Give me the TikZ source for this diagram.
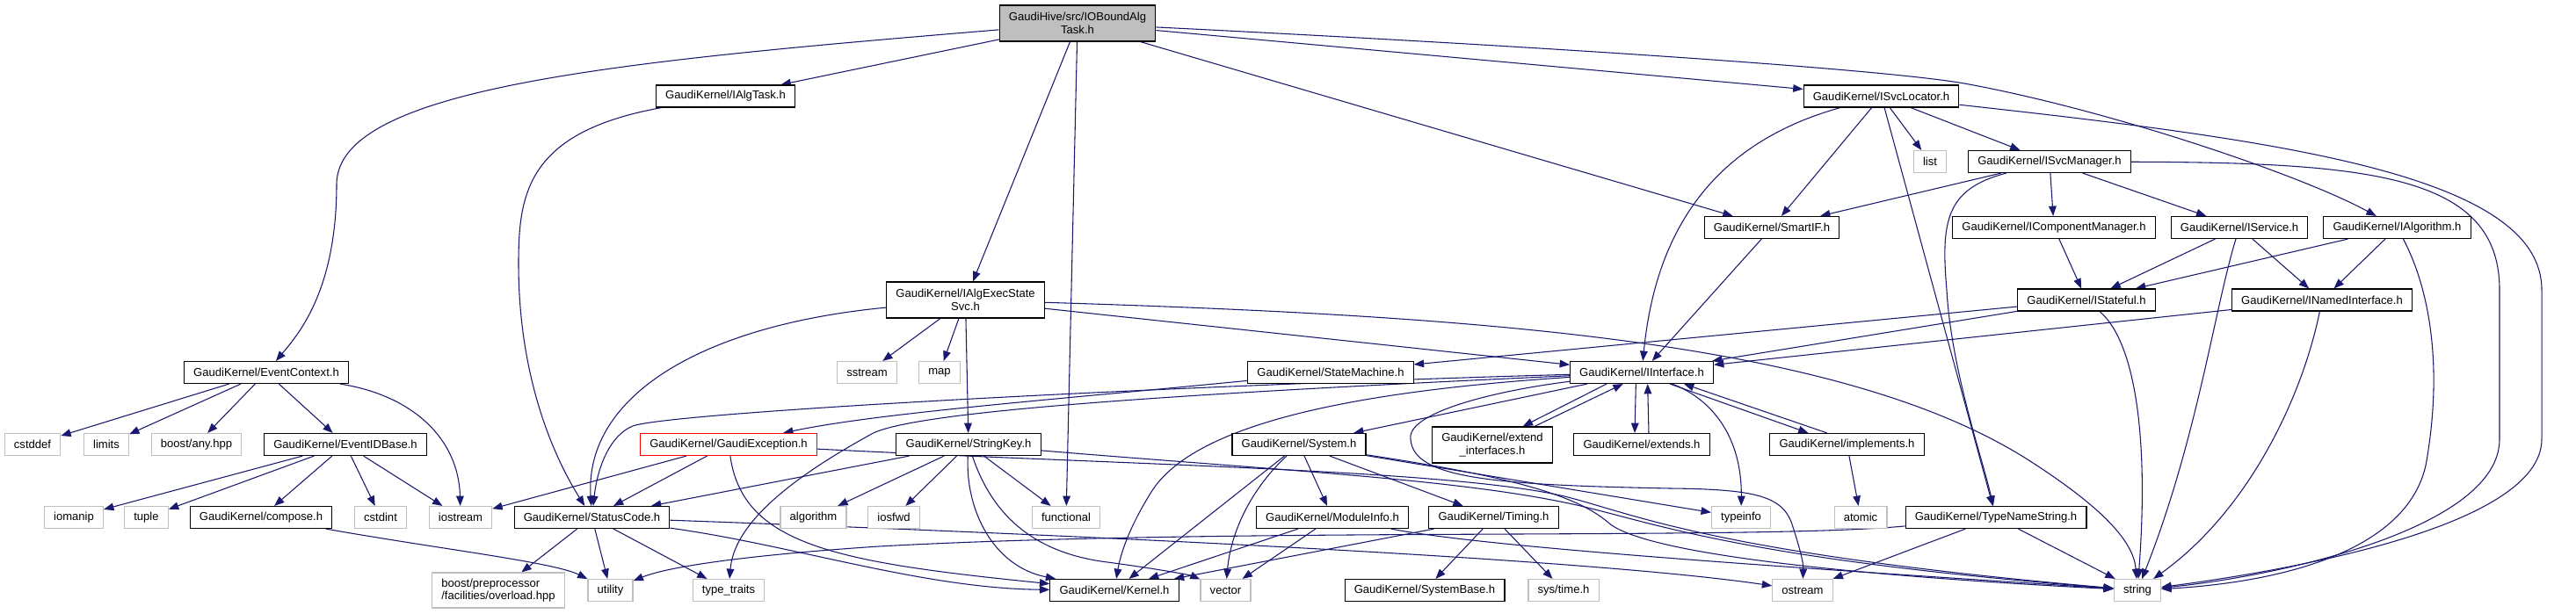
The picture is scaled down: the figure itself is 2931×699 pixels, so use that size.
\documentclass[tikz,border=0pt]{standalone}
\usepackage{fontspec}
\setmainfont{Liberation Sans}
\usetikzlibrary{arrows.meta}
\pgfdeclarelayer{bg}
\pgfsetlayers{bg,main}
\definecolor{grey75}{HTML}{BFBFBF}
\definecolor{edgeblue}{HTML}{191970}
\begin{document}
\begin{tikzpicture}[x=0.75pt,y=-0.75pt,
  every node/.style={font=\fontsize{9.8}{11}\selectfont, inner xsep=8pt, inner ysep=1pt,
    minimum height=18.75pt, fill=white, line width=0.85pt},
  hdr/.style={draw=black},
  sys/.style={draw=grey75},
  trunc/.style={draw=red},
  root/.style={draw=black, fill=grey75, align=center, minimum height=30.75pt},
  two/.style={align=center, minimum height=30.75pt},
  e/.style={draw=edgeblue, line width=0.8pt, -{Triangle[length=8.5pt,width=6.5pt]}},
]
\begin{pgfonlayer}{bg}
\fill[white] (0,0) rectangle (2931,699);
\end{pgfonlayer}
\useasboundingbox (0,0) rectangle (2931,699);

% ---------- nodes ----------
\node[root] (M) at (1226,26.5) {GaudiHive/src/IOBoundAlg\\Task.h};
\node[hdr] (IAlgTask) at (825.5,109.5) {GaudiKernel/IAlgTask.h};
\node[hdr] (ISvcLocator) at (2140.5,109.5) {GaudiKernel/ISvcLocator.h};
\node[sys] (list) at (2196,184) {list};
\node[hdr] (ISvcManager) at (2332,184) {GaudiKernel/ISvcManager.h};
\node[hdr] (SmartIF) at (2016,259) {GaudiKernel/SmartIF.h};
\node[hdr] (ICompMgr) at (2337,259) {GaudiKernel/IComponentManager.h};
\node[hdr] (IService) at (2548,259) {GaudiKernel/IService.h};
\node[hdr] (IAlgorithm) at (2727.5,259) {GaudiKernel/IAlgorithm.h};
\node[hdr,two] (IAlgExec) at (1098.5,341.5) {GaudiKernel/IAlgExecState\\Svc.h};
\node[hdr] (IStateful) at (2374,341.5) {GaudiKernel/IStateful.h};
\node[hdr] (INamed) at (2642,341.5) {GaudiKernel/INamedInterface.h};
\node[hdr] (EvCtx) at (303,424) {GaudiKernel/EventContext.h};
\node[sys] (sstream) at (986.5,424) {sstream};
\node[sys] (map) at (1069,424) {map};
\node[hdr] (StateMachine) at (1514,424) {GaudiKernel/StateMachine.h};
\node[hdr] (IInterface) at (1868,424) {GaudiKernel/IInterface.h};
\node[sys] (cstddef) at (37,506) {cstddef};
\node[sys] (limits) at (121,506) {limits};
\node[sys] (anyhpp) at (223.5,506) {boost/any.hpp};
\node[hdr] (EvIDBase) at (393,506) {GaudiKernel/EventIDBase.h};
\node[trunc] (GExc) at (829,506) {GaudiKernel/GaudiException.h};
\node[hdr] (StringKey) at (1102,506) {GaudiKernel/StringKey.h};
\node[hdr] (System) at (1478,506) {GaudiKernel/System.h};
\node[hdr,two] (extendif) at (1698,506.5) {GaudiKernel/extend\\\_interfaces.h};
\node[hdr] (extends) at (1868,506) {GaudiKernel/extends.h};
\node[hdr] (implements) at (2101.5,506) {GaudiKernel/implements.h};
\node[sys] (iomanip) at (84,589) {iomanip};
\node[sys] (tuple) at (166.5,589) {tuple};
\node[hdr] (compose) at (297,589) {GaudiKernel/compose.h};
\node[sys] (cstdint) at (433,589) {cstdint};
\node[sys] (iostream) at (524,589) {iostream};
\node[hdr] (StatusCode) at (673.5,589) {GaudiKernel/StatusCode.h};
\node[sys] (algorithm) at (925.5,589) {algorithm};
\node[sys] (iosfwd) at (1017,589) {iosfwd};
\node[sys] (functional) at (1213,589) {functional};
\node[hdr] (ModuleInfo) at (1516,589) {GaudiKernel/ModuleInfo.h};
\node[hdr] (Timing) at (1699.5,589) {GaudiKernel/Timing.h};
\node[sys] (typeinfo) at (1981,589) {typeinfo};
\node[sys] (atomic) at (2117,589) {atomic};
\node[hdr] (TypeName) at (2271,589) {GaudiKernel/TypeNameString.h};
\node[sys,align=left,minimum height=30pt] (boostpp) at (567,672) {boost/preprocessor\\/facilities/overload.hpp};
\node[sys] (utility) at (694.5,672) {utility};
\node[sys] (typetraits) at (829,672) {type\_traits};
\node[hdr] (Kernel) at (1268,672) {GaudiKernel/Kernel.h};
\node[sys] (vector) at (1394.5,672) {vector};
\node[hdr] (SystemBase) at (1621,672) {GaudiKernel/SystemBase.h};
\node[sys] (systime) at (1779,672) {sys/time.h};
\node[sys] (ostream) at (2051,672) {ostream};
\node[sys] (string) at (2432,672) {string};

% ---------- edges ----------
\begin{pgfonlayer}{bg}
% root
\draw[e] (M) .. controls (700,70) and (383,100) .. (383,210) .. controls (383,330) and (340,380) .. (EvCtx);
\draw[e] (M) -- (IAlgTask);
\draw[e] (M) -- (IAlgExec);
\draw[e] (M) -- (functional);
\draw[e] (M) -- (SmartIF);
\draw[e] (M) -- (ISvcLocator);
\draw[e] (M) .. controls (1800,55) and (2150,80) .. (2235,95) .. controls (2400,125) and (2620,200) .. (IAlgorithm);
% IAlgTask
\draw[e] (IAlgTask) .. controls (600,150) and (590,220) .. (590,300) .. controls (590,430) and (630,520) .. (StatusCode);
% EventContext
\draw[e] (EvCtx) -- (cstddef);
\draw[e] (EvCtx) -- (limits);
\draw[e] (EvCtx) -- (anyhpp);
\draw[e] (EvCtx) -- (EvIDBase);
\draw[e] (EvCtx) .. controls (470,450) and (522,500) .. (iostream);
% EventIDBase
\draw[e] (EvIDBase) -- (iomanip);
\draw[e] (EvIDBase) -- (tuple);
\draw[e] (EvIDBase) -- (compose);
\draw[e] (EvIDBase) -- (cstdint);
\draw[e] (EvIDBase) -- (iostream);
\draw[e] (compose) .. controls (500,625) and (630,640) .. (utility);
% GaudiException
\draw[e] (GExc) -- (iostream);
\draw[e] (GExc) -- (StatusCode);
\draw[e] (GExc) .. controls (845,620) and (950,640) .. (Kernel);
\draw[e] (GExc) .. controls (1300,530) and (1650,535) .. (1780,565) .. controls (1860,585) and (1950,630) .. (string);
% StatusCode
\draw[e] (StatusCode) -- (boostpp);
\draw[e] (StatusCode) -- (utility);
\draw[e] (StatusCode) -- (typetraits);
\draw[e] (StatusCode) .. controls (900,620) and (1050,670) .. (Kernel);
\draw[e] (StatusCode) .. controls (1200,608) and (1800,635) .. (ostream);
% IAlgExecStateSvc
\draw[e] (IAlgExec) -- (sstream);
\draw[e] (IAlgExec) -- (map);
\draw[e] (IAlgExec) -- (StringKey);
\draw[e] (IAlgExec) .. controls (800,370) and (665,450) .. (StatusCode);
\draw[e] (IAlgExec) -- (IInterface);
\draw[e] (IAlgExec) .. controls (1700,360) and (2100,390) .. (2310,525) .. controls (2400,583) and (2428,620) .. (string);
% StateMachine
\draw[e] (StateMachine) .. controls (1200,455) and (1000,470) .. (GExc);
% IInterface
\draw[e] (IInterface) .. controls (1300,440) and (760,470) .. (720,485) .. controls (695,495) and (680,530) .. (StatusCode);
\draw[e] (IInterface) .. controls (1300,450) and (1030,470) .. (990,495) .. controls (890,550) and (835,600) .. (typetraits);
\draw[e] (IInterface) .. controls (1550,445) and (1360,480) .. (1310,560) .. controls (1285,600) and (1275,630) .. (Kernel);
\draw[e] (IInterface) -- (System);
\draw[e] ([xshift=-30pt]IInterface.south) -- ([xshift=26pt]extendif.north);
\draw[e] ([xshift=36pt]extendif.north) -- ([xshift=-16pt]IInterface.south);
\draw[e] ([xshift=-5pt]IInterface.south) -- ([xshift=-6pt]extends.north);
\draw[e] ([xshift=6pt]extends.north) -- ([xshift=5pt]IInterface.south);
\draw[e] ([xshift=24pt]IInterface.south) -- ([xshift=-33pt]implements.north);
\draw[e] ([xshift=-17pt]implements.north) -- ([xshift=36pt]IInterface.south);
\draw[e] (IInterface) .. controls (1950,455) and (1982,500) .. (typeinfo);
\draw[e] (IInterface) .. controls (1700,445) and (1600,470) .. (1605,500) .. controls (1608,545) and (1700,552) .. (1900,556) .. controls (2000,557) and (2030,565) .. (2040,600) .. controls (2048,625) and (2052,640) .. (ostream);
% into IInterface
\draw[e] (SmartIF) -- (IInterface);
\draw[e] (ISvcLocator) .. controls (1960,160) and (1885,250) .. (IInterface);
\draw[e] (IStateful) -- (IInterface);
\draw[e] (IStateful) -- (StateMachine);
\draw[e] (INamed) -- (IInterface);
% ISvcLocator
\draw[e] (ISvcLocator) -- (SmartIF);
\draw[e] (ISvcLocator) -- (TypeName);
\draw[e] (ISvcLocator) -- (list);
\draw[e] (ISvcLocator) -- (ISvcManager);
\draw[e] (ISvcLocator) .. controls (2600,160) and (2892,200) .. (2892,330) -- (2892,500) .. controls (2892,600) and (2600,650) .. (string);
% ISvcManager
\draw[e] (ISvcManager) -- (SmartIF);
\draw[e] (ISvcManager) .. controls (2215,215) and (2208,250) .. (2215,330) .. controls (2220,420) and (2255,520) .. (TypeName);
\draw[e] (ISvcManager) -- (ICompMgr);
\draw[e] (ISvcManager) -- (IService);
\draw[e] (ISvcManager) .. controls (2700,185) and (2844,200) .. (2844,330) -- (2844,500) .. controls (2844,600) and (2600,655) .. (string);
% IComponentManager, IService, IAlgorithm, IStateful, INamedInterface
\draw[e] (ICompMgr) -- (IStateful);
\draw[e] (IService) -- (IStateful);
\draw[e] (IService) -- (INamed);
\draw[e] (IService) .. controls (2520,350) and (2500,500) .. (string);
\draw[e] (IAlgorithm) -- (IStateful);
\draw[e] (IAlgorithm) -- (INamed);
\draw[e] (IAlgorithm) .. controls (2765,330) and (2780,420) .. (2760,530) .. controls (2735,640) and (2560,665) .. (string);
\draw[e] (IStateful) .. controls (2430,390) and (2445,500) .. (string);
\draw[e] (INamed) .. controls (2620,450) and (2560,580) .. (string);
% implements, TypeNameString
\draw[e] (implements) -- (atomic);
\draw[e] (TypeName) -- (ostream);
\draw[e] (TypeName) -- (string);
\draw[e] (TypeName) .. controls (2000,615) and (1400,600) .. (1000,622) .. controls (850,632) and (760,645) .. (utility);
% StringKey
\draw[e] (StringKey) -- (algorithm);
\draw[e] (StringKey) -- (iosfwd);
\draw[e] (StringKey) -- (functional);
\draw[e] (StringKey) -- (StatusCode);
\draw[e] (StringKey) .. controls (1098,580) and (1130,645) .. (Kernel);
\draw[e] (StringKey) .. controls (1130,590) and (1180,630) .. (1260,640) .. controls (1320,648) and (1355,655) .. (vector);
\draw[e] (StringKey) .. controls (1450,535) and (1650,545) .. (1780,572) .. controls (1870,590) and (1960,635) .. (string);
% System
\draw[e] (System) -- (Kernel);
\draw[e] (System) .. controls (1420,560) and (1400,610) .. (vector);
\draw[e] (System) -- (ModuleInfo);
\draw[e] (System) -- (Timing);
\draw[e] (System) -- (typeinfo);
\draw[e] (System) .. controls (1700,540) and (1790,560) .. (1830,595) .. controls (1870,630) and (2100,655) .. (string);
% ModuleInfo
\draw[e] (ModuleInfo) -- (Kernel);
\draw[e] (ModuleInfo) -- (vector);
\draw[e] (ModuleInfo) .. controls (1700,625) and (2100,650) .. (string);
% Timing
\draw[e] (Timing) -- (Kernel);
\draw[e] (Timing) -- (SystemBase);
\draw[e] (Timing) -- (systime);
\end{pgfonlayer}
\end{tikzpicture}
\end{document}
